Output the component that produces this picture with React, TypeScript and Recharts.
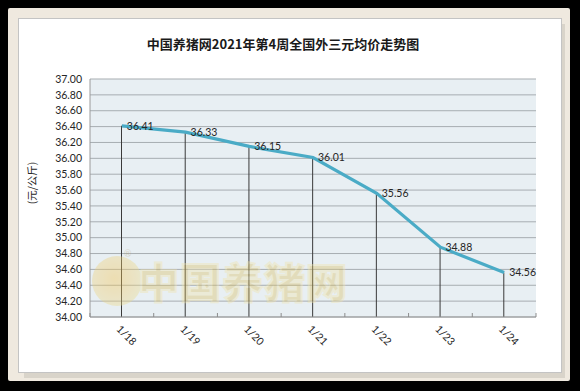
import React from "react";
import { ComposedChart, Line, Bar, XAxis, YAxis, CartesianGrid, LabelList } from "recharts";

const dates = ["1/18", "1/19", "1/20", "1/21", "1/22", "1/23", "1/24"];
const prices = [36.41, 36.33, 36.15, 36.01, 35.56, 34.88, 34.56];
const yTicks = [34.0, 34.2, 34.4, 34.6, 34.8, 35.0, 35.2, 35.4, 35.6, 35.8, 36.0, 36.2, 36.4, 36.6, 36.8, 37.0];

const chartTitle = "中国养猪网2021年第4周全国外三元均价走势图";
const unitLabel = "(元/公斤)";
const watermark = "中国养猪网";

const data = dates.map((d, i) => ({ date: d, price: prices[i] }));

const FONT = "Lato, 'Liberation Sans', 'Noto Sans CJK SC', sans-serif";

// date label plus the small tick marks Excel puts between categories
function DateTick(props: any) {
  const { x, y, payload } = props;
  const half = payload.offset ?? 0;
  const isLast = payload.value === dates[dates.length - 1];
  return (
    <g>
      <line x1={x - half} x2={x - half} y1={y - 4} y2={y} stroke="#8c8c8c" />
      {isLast && <line x1={x + half} x2={x + half} y1={y - 4} y2={y} stroke="#8c8c8c" />}
      <text
        x={x + 4}
        y={y + 19}
        transform={`rotate(45, ${x + 4}, ${y + 19})`}
        textAnchor="middle"
        dominantBaseline="middle"
        fontSize={10.5}
        fontFamily={FONT}
        fill="#262626"
      >
        {payload.value}
      </text>
    </g>
  );
}

export default function App() {
  return (
    <div style={{ position: "absolute", left: 0, top: 0, width: 580, height: 391, background: "#000", overflow: "hidden" }}>
      {/* paper frame, shadow, white panel */}
      <div style={{ position: "absolute", left: 8, top: 8, width: 562, height: 373, background: "#efe9df", borderRadius: 2 }} />
      <div style={{ position: "absolute", left: 24, top: 24, width: 541, height: 354, background: "#d9d4ca" }} />
      <div style={{ position: "absolute", left: 18, top: 18, width: 542, height: 353, background: "#fff", border: "1px solid #c4c4c4" }} />

      <div
        style={{
          position: "absolute",
          left: 0,
          top: 36,
          width: 566,
          textAlign: "center",
          fontFamily: "'Noto Sans CJK SC', sans-serif",
          fontWeight: 700,
          fontSize: 13,
          lineHeight: "15px",
          color: "#1a1a1a",
        }}
      >
        {chartTitle}
      </div>

      <div style={{ position: "absolute", left: 32, top: 183, width: 0, height: 0 }}>
        <div
          style={{
            position: "absolute",
            left: 0,
            top: 0,
            transform: "translate(-50%, -50%) rotate(-90deg)",
            whiteSpace: "nowrap",
            fontFamily: "'Noto Sans CJK SC', sans-serif",
            fontSize: 10.5,
            lineHeight: "12px",
            color: "#262626",
          }}
        >
          {unitLabel}
        </div>
      </div>

      <div style={{ position: "absolute", left: 0, top: 0 }}>
        <ComposedChart width={580} height={391} data={data} margin={{ top: 79, right: 44, bottom: 34, left: 30 }}>
          <CartesianGrid vertical={false} stroke="#a7adb1" fill="#e8eff3" />
          <XAxis
            dataKey="date"
            height={40}
            axisLine={{ stroke: "#9a9a9a" }}
            tickLine={false}
            tickSize={0}
            tickMargin={0}
            interval={0}
            tick={<DateTick />}
          />
          <YAxis
            width={60}
            domain={[34, 37]}
            ticks={yTicks}
            interval={0}
            allowDataOverflow
            axisLine={{ stroke: "#9a9a9a" }}
            tickLine={false}
            tickFormatter={(v: number) => v.toFixed(2)}
            tick={{ fontSize: 10.5, fill: "#262626", fontFamily: FONT }}
          />
          {/* drop lines from each point to the axis */}
          <Bar dataKey="price" barSize={1} fill="#3a3a3a" isAnimationActive={false} />
          <Line type="linear" dataKey="price" stroke="#4aabc6" strokeWidth={3.2} dot={false} isAnimationActive={false}>
            <LabelList
              dataKey="price"
              position="right"
              offset={5}
              fontSize={10.5}
              fill="#262626"
              fontFamily={FONT}
              formatter={(v: any) => Number(v).toFixed(2)}
            />
          </Line>
        </ComposedChart>
      </div>

      {/* faded watermark */}
      <div style={{ position: "absolute", left: 92, top: 252, opacity: 0.38, pointerEvents: "none" }}>
        <div style={{ position: "absolute", left: 0, top: 4, width: 50, height: 50, borderRadius: 25, background: "radial-gradient(circle at 45% 45%, #f6c24a 0%, #efd27c 55%, #e6e9a0 100%)" }} />
        <div style={{ position: "absolute", left: 32, top: -4, fontSize: 9, color: "#b9a77a", fontFamily: FONT }}>®</div>
        <div
          style={{
            position: "absolute",
            left: 46,
            top: 6,
            whiteSpace: "nowrap",
            fontFamily: "'Noto Sans CJK SC', sans-serif",
            fontWeight: 900,
            fontSize: 41,
            lineHeight: "44px",
            letterSpacing: 1,
            color: "#d9bf63",
            WebkitTextStroke: "2px #f1e3a8",
          }}
        >
          {watermark}
        </div>
      </div>
    </div>
  );
}
